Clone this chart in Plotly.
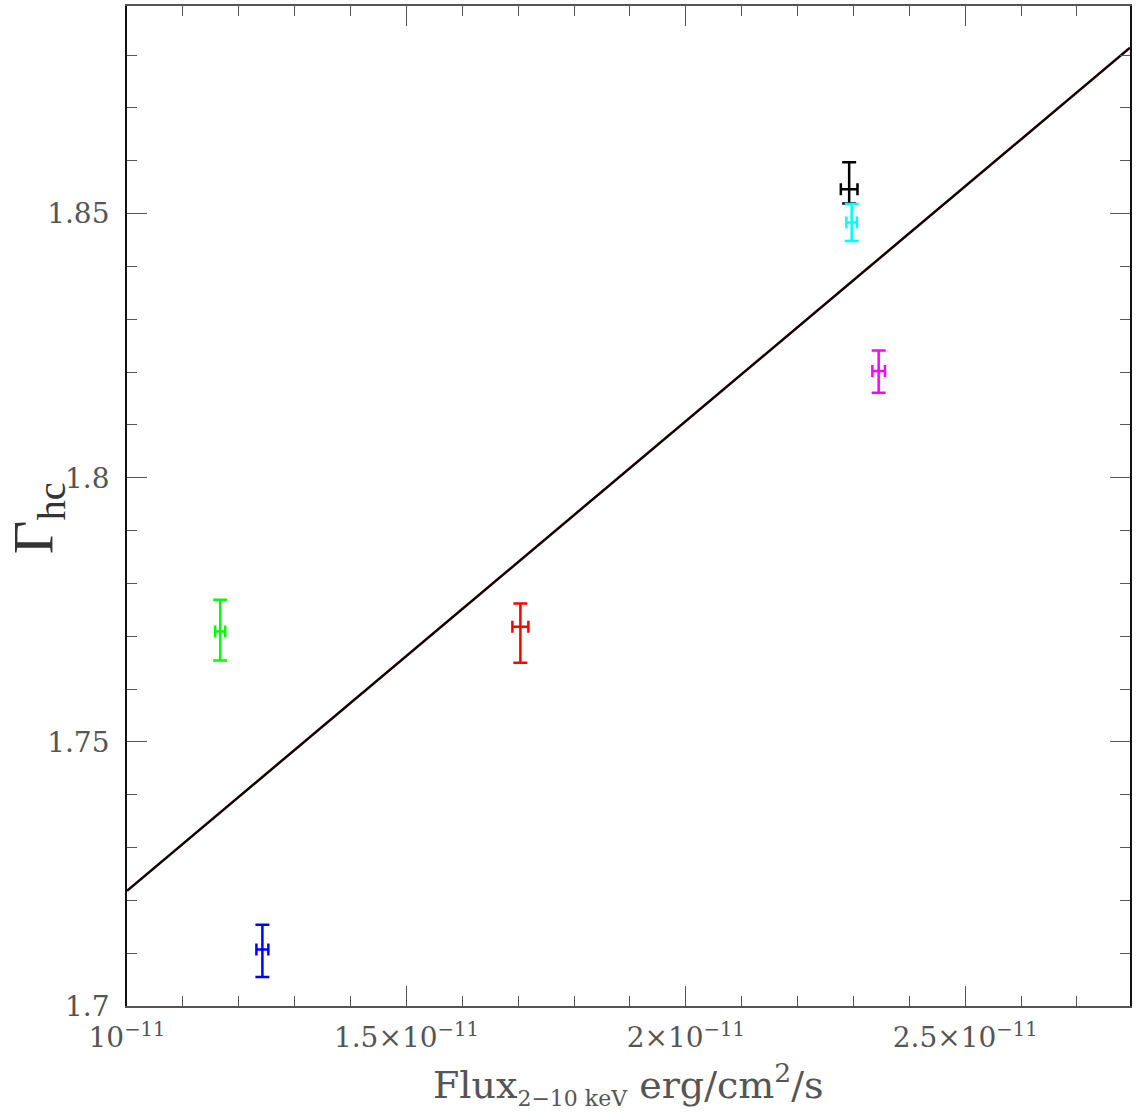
import plotly.graph_objects as go

# Data
flux = [2.2924e-11, 2.2969e-11, 2.3452e-11, 1.1668e-11, 1.2423e-11, 1.7040e-11]
flux_err = [0.0149e-11, 0.0095e-11, 0.0113e-11, 0.0090e-11, 0.0107e-11, 0.0143e-11]
gamma = [1.8546, 1.8483, 1.8202, 1.7709, 1.7107, 1.7718]
gamma_err_plus = [0.0051, 0.0035, 0.0039, 0.0060, 0.0047, 0.0044]
gamma_err_minus = [0.0027, 0.0035, 0.0041, 0.0055, 0.0052, 0.0068]
colors = ["#000000", "#00ffff", "#ff00ff", "#00ff00", "#0000ff", "#ff0000"]

fit_x = [1.0e-11, 2.795e-11]
fit_y = [1.7218, 1.8814]

x_tickvals = [1.0e-11, 1.5e-11, 2.0e-11, 2.5e-11]
x_ticktext = ["10<sup>−11</sup>", "1.5×10<sup>−11</sup>", "2×10<sup>−11</sup>", "2.5×10<sup>−11</sup>"]
y_tickvals = [1.7, 1.75, 1.8, 1.85]
y_ticktext = ["1.7", "1.75", "1.8", "1.85"]

x_title = "Flux<sub><span style='font-size:22px'>2−10 keV</span></sub> erg/cm<sup>2</sup>/s"
y_title = "Γ<sub>hc</sub>"

fig = go.Figure()

fig.add_trace(go.Scatter(x=fit_x, y=fit_y, mode="lines",
                         line=dict(color="#100000", width=2.5), showlegend=False))

for i in range(len(flux)):
    fig.add_trace(go.Scatter(
        x=[flux[i]], y=[gamma[i]], mode="markers",
        marker=dict(size=1, color=colors[i]),
        error_x=dict(type="data", array=[flux_err[i]], color=colors[i], thickness=2.5, width=6),
        error_y=dict(type="data", array=[gamma_err_plus[i]], arrayminus=[gamma_err_minus[i]],
                     color=colors[i], thickness=2.5, width=7),
        showlegend=False))

tickfont = dict(family="DejaVu Serif", size=28, color="#555555")

fig.update_layout(
    width=1136, height=1113,
    margin=dict(l=127, r=5, t=4, b=107),
    paper_bgcolor="white", plot_bgcolor="white",
    xaxis=dict(
        range=[1.0e-11, 2.795e-11], tickvals=x_tickvals, ticktext=x_ticktext,
        ticks="inside", ticklen=20, tickwidth=1.2, tickcolor="#555555",
        minor=dict(dtick=0.1e-11, tick0=1e-11, ticks="inside", ticklen=10, tickcolor="#555555", tickwidth=1.2, showgrid=False),
        showline=True, linecolor="#555555", linewidth=1.5, mirror="allticks",
        showgrid=False, zeroline=False, tickfont=tickfont, ticklabelstandoff=6,
    ),
    yaxis=dict(
        range=[1.7, 1.8893], tickvals=y_tickvals, ticktext=y_ticktext,
        ticks="inside", ticklen=20, tickwidth=1.2, tickcolor="#555555",
        minor=dict(dtick=0.01, tick0=1.7, ticks="inside", ticklen=10, tickcolor="#555555", tickwidth=1.2, showgrid=False),
        showline=True, linecolor="#111111", linewidth=1.8, mirror="allticks",
        showgrid=False, zeroline=False, tickfont=tickfont, ticklabelstandoff=10,
    ),
    annotations=[
        dict(text=x_title, xref="paper", yref="paper", x=0.5, y=-0.078,
             xanchor="center", yanchor="middle", showarrow=False,
             font=dict(family="DejaVu Serif", size=38, color="#555555")),
        dict(text=y_title, xref="paper", yref="paper", x=-0.0896, y=0.488,
             xanchor="center", yanchor="middle", showarrow=False, textangle=-90,
             font=dict(family="Liberation Serif", size=58, color="#333333")),
    ],
)

fig.write_html("out.html")
